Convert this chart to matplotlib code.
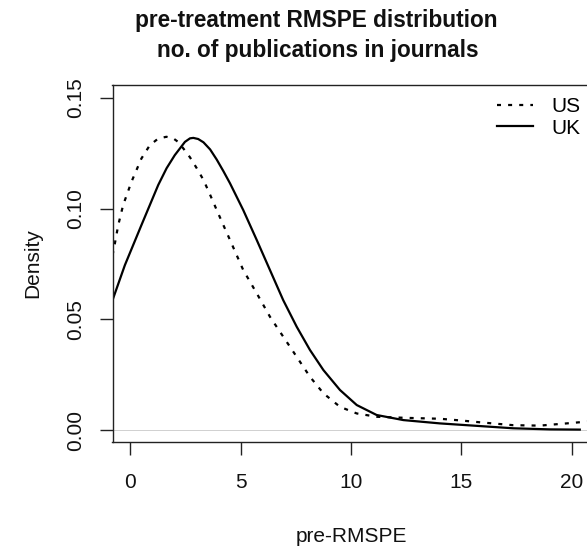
import matplotlib
matplotlib.use("Agg")
import matplotlib.pyplot as plt

plt.rcParams['font.family'] = ['Liberation Sans', 'DejaVu Sans']

# ---- data ----
us_x = [-0.80, -0.72, -0.54, -0.32, 0.06, 0.51, 0.89, 1.27, 1.64, 1.95, 2.17, 2.41,
        2.71, 3.02, 3.32, 3.62, 3.92, 4.22, 4.52, 5.12, 5.73, 6.33, 6.93, 7.54,
        8.14, 8.75, 9.50, 10.26, 11.16, 12.52, 14.03, 15.00, 15.84, 17.34, 18.55,
        19.76, 20.67, 21.20]
us_y = [0.0790, 0.0828, 0.0926, 0.1016, 0.1122, 0.1227, 0.1287, 0.1317, 0.1325, 0.1318,
        0.1302, 0.1272, 0.1232, 0.1182, 0.1130, 0.1063, 0.0994, 0.0926, 0.0859, 0.0723,
        0.0618, 0.0512, 0.0422, 0.0331, 0.0241, 0.0166, 0.0105, 0.0075, 0.0060, 0.0055,
        0.0051, 0.0043, 0.0035, 0.0022, 0.0020, 0.0030, 0.0038, 0.0042]

uk_x = [-0.80, -0.77, -0.24, 0.51, 1.27, 1.65, 2.02, 2.48, 2.71, 2.86, 3.08, 3.32,
        3.62, 3.92, 4.22, 4.52, 5.12, 5.73, 6.33, 6.93, 7.54, 8.14, 8.75, 9.50,
        10.26, 11.16, 12.37, 14.03, 15.54, 17.34, 19.00, 20.36]
uk_y = [0.0585, 0.0595, 0.0745, 0.0926, 0.1107, 0.1183, 0.1242, 0.1302, 0.1318, 0.1320,
        0.1315, 0.1300, 0.1268, 0.1222, 0.1170, 0.1115, 0.0994, 0.0859, 0.0723, 0.0587,
        0.0467, 0.0362, 0.0271, 0.0181, 0.0113, 0.0068, 0.0045, 0.0030, 0.0020, 0.0008,
        0.0003, 0.0002]

x_ticks = [0, 5, 10, 15, 20]
y_ticks = [0.00, 0.05, 0.10, 0.15]
y_ticklabels = ["0.00", "0.05", "0.10", "0.15"]
series_labels = ["US", "UK"]
title_lines = ["pre-treatment RMSPE distribution", "no. of publications in journals"]

# ---- layout ----
W, H = 587, 547
fig = plt.figure(figsize=(W / 100, H / 100), dpi=100)
left_px, right_px, top_px, bot_px = 112.5, 589.5, 85, 442
ax = fig.add_axes([left_px / W, (H - bot_px) / H, (right_px - left_px) / W, (bot_px - top_px) / H])

ax.axhline(0, color='#d0d0d0', lw=0.7, zorder=1)
l_us, = ax.plot(us_x, us_y, color='black', lw=1.6, linestyle=(0, (1.8, 3.2)),
                label=series_labels[0])
l_uk, = ax.plot(uk_x, uk_y, color='black', lw=1.6, label=series_labels[1])

ax.set_xlim(-0.8, 20.8)
ax.set_ylim(-0.0054, 0.1559)
ax.set_xticks(x_ticks)
ax.set_xticklabels([str(t) for t in x_ticks])
ax.set_yticks(y_ticks)
ax.set_yticklabels(y_ticklabels)

for s in ax.spines.values():
    s.set_linewidth(1.0)
    s.set_color('#222222')

ax.tick_params(axis='both', direction='out', length=9.4, width=1.0, color='#222222',
               labelsize=15, labelcolor='#111111')
ax.tick_params(axis='x', pad=13)
ax.tick_params(axis='y', pad=10, labelrotation=90)
for lbl in ax.get_yticklabels():
    lbl.set_va('center')

leg = ax.legend(handles=[l_us, l_uk], loc='upper left', bbox_to_anchor=(497 / W, 1 - 97 / H),
                bbox_transform=fig.transFigure, frameon=False, fontsize=15,
                handlelength=1.75, handletextpad=0.85, labelspacing=0.12,
                borderpad=0, borderaxespad=0)

fig.text(316 / W, 1 - 27 / H, title_lines[0], ha='center', va='baseline', fontsize=16.3,
         fontweight='bold', color='#111111')
fig.text(318 / W, 1 - 57 / H, title_lines[1], ha='center', va='baseline', fontsize=16.3,
         fontweight='bold', color='#111111')
fig.text(33 / W, 1 - 263 / H, 'Density', rotation=90, ha='center', va='center', fontsize=15,
         color='#111111')
fig.text(351 / W, 1 - 542 / H, 'pre-RMSPE', ha='center', va='baseline', fontsize=15,
         color='#111111')

fig.savefig('out.png', dpi=100)
